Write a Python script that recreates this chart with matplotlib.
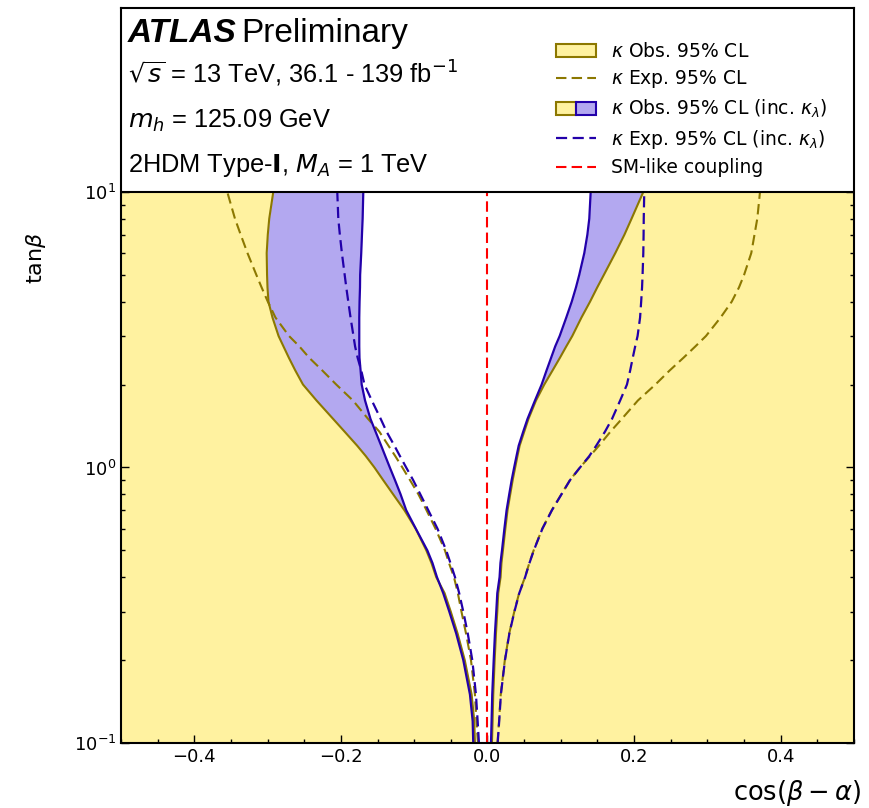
import matplotlib
matplotlib.use("Agg")
import matplotlib.pyplot as plt
from matplotlib.patches import Patch
from matplotlib.lines import Line2D
from matplotlib.legend_handler import HandlerTuple
from matplotlib.ticker import MultipleLocator, LogLocator, NullFormatter

# tan(beta) sampling points
tan_beta = [0.1, 0.12, 0.15, 0.2, 0.25, 0.3, 0.35, 0.4, 0.45, 0.5, 0.6, 0.7, 0.8,
            0.9, 1.0, 1.1, 1.2, 1.35, 1.5, 1.75, 2.0, 2.25, 2.5, 2.75, 3.0, 3.5,
            4.0, 4.5, 5.0, 6.0, 7.0, 8.0, 10.0]

# kappa observed / expected 95% CL boundaries, cos(beta - alpha)
obs_left = [-0.0171, -0.0180, -0.0216, -0.0310, -0.0408, -0.0501, -0.0585, -0.0699,
            -0.0764, -0.0834, -0.0980, -0.1134, -0.1288, -0.1423, -0.1542, -0.1660,
            -0.1778, -0.1950, -0.2105, -0.2332, -0.2517, -0.2622, -0.2709, -0.2783,
            -0.2850, -0.2933, -0.2988, -0.3001, -0.3007, -0.3012, -0.2997, -0.2977,
            -0.2922]
obs_right = [0.0061, 0.0070, 0.0079, 0.0098, 0.0116, 0.0134, 0.0147, 0.0179,
             0.0191, 0.0211, 0.0244, 0.0274, 0.0311, 0.0344, 0.0378, 0.0409,
             0.0439, 0.0502, 0.0559, 0.0662, 0.0775, 0.0888, 0.0988, 0.1075,
             0.1157, 0.1282, 0.1400, 0.1497, 0.1588, 0.1744, 0.1869, 0.1966,
             0.2126]
exp_left = [-0.0130, -0.0150, -0.0171, -0.0225, -0.0293, -0.0355, -0.0404, -0.0457,
            -0.0525, -0.0580, -0.0709, -0.0832, -0.0943, -0.1057, -0.1161, -0.1258,
            -0.1351, -0.1476, -0.1628, -0.1835, -0.2063, -0.2254, -0.2431, -0.2566,
            -0.2707, -0.2892, -0.2997, -0.3081, -0.3153, -0.3274, -0.3367, -0.3445,
            -0.3550]
exp_right = [0.0137, 0.0158, 0.0181, 0.0237, 0.0297, 0.0366, 0.0432, 0.0512,
             0.0571, 0.0630, 0.0748, 0.0878, 0.1009, 0.1125, 0.1262, 0.1398,
             0.1521, 0.1679, 0.1832, 0.2052, 0.2291, 0.2486, 0.2673, 0.2836,
             0.2981, 0.3180, 0.3333, 0.3431, 0.3501, 0.3599, 0.3643, 0.3681,
             0.3718]

# including kappa_lambda
obs_kl_left = [-0.0194, -0.0202, -0.0239, -0.0330, -0.0427, -0.0521, -0.0604, -0.0689,
               -0.0750, -0.0820, -0.0978, -0.1109, -0.1186, -0.1262, -0.1332, -0.1394,
               -0.1450, -0.1527, -0.1596, -0.1670, -0.1716, -0.1731, -0.1746, -0.1749,
               -0.1749, -0.1749, -0.1745, -0.1739, -0.1737, -0.1722, -0.1712, -0.1703,
               -0.1694]
obs_kl_right = [0.0048, 0.0056, 0.0065, 0.0085, 0.0102, 0.0120, 0.0134, 0.0165,
                0.0177, 0.0198, 0.0231, 0.0261, 0.0297, 0.0330, 0.0364, 0.0396,
                0.0426, 0.0488, 0.0546, 0.0648, 0.0739, 0.0806, 0.0868, 0.0924,
                0.0985, 0.1075, 0.1150, 0.1207, 0.1252, 0.1321, 0.1363, 0.1389,
                0.1408]
exp_kl_left = [-0.0116, -0.0134, -0.0157, -0.0207, -0.0269, -0.0330, -0.0386, -0.0443,
               -0.0505, -0.0563, -0.0682, -0.0808, -0.0917, -0.1014, -0.1109, -0.1194,
               -0.1270, -0.1377, -0.1456, -0.1578, -0.1678, -0.1722, -0.1771, -0.1806,
               -0.1828, -0.1868, -0.1899, -0.1926, -0.1948, -0.1986, -0.2014, -0.2035,
               -0.2049]
exp_kl_right = [0.0139, 0.0160, 0.0183, 0.0239, 0.0299, 0.0368, 0.0434, 0.0514,
                0.0573, 0.0632, 0.0750, 0.0880, 0.1011, 0.1127, 0.1263, 0.1389,
                0.1484, 0.1604, 0.1699, 0.1810, 0.1903, 0.1947, 0.1982, 0.2015,
                0.2048, 0.2082, 0.2097, 0.2109, 0.2116, 0.2126, 0.2130, 0.2132,
                0.2139]

yellow = '#fff2a0'
olive = '#8c7800'
lilac = '#b3a8f0'
blue = '#2200aa'
dash = (5, 2.5)

x_min, x_max = -0.5, 0.5
y_min, y_max = 0.1, 46.5

fig = plt.figure(figsize=(8.69, 8.08), dpi=100)
ax = fig.add_axes([0.1392, 0.0804, 0.8435, 0.9097])

ax.fill_betweenx(tan_beta, x_min, obs_left, color=yellow, lw=0, zorder=1)
ax.fill_betweenx(tan_beta, obs_right, x_max, color=yellow, lw=0, zorder=1)
ax.fill_betweenx(tan_beta, obs_left, obs_kl_left, color=lilac, lw=0, zorder=1.5)
ax.fill_betweenx(tan_beta, obs_kl_right, obs_right, color=lilac, lw=0, zorder=1.5)

for xs in (obs_left, obs_right):
    ax.plot(xs, tan_beta, color=olive, lw=1.5, zorder=2)
for xs in (exp_left, exp_right):
    ax.plot(xs, tan_beta, color=olive, lw=1.5, dashes=dash, zorder=2.2)
for xs in (obs_kl_left, obs_kl_right):
    ax.plot(xs, tan_beta, color=blue, lw=1.6, zorder=2.4)
for xs in (exp_kl_left, exp_kl_right):
    ax.plot(xs, tan_beta, color=blue, lw=1.6, dashes=dash, zorder=2.6)
ax.plot([0, 0], [y_min, 10], color='red', lw=1.5, dashes=dash, zorder=2.8)

# white box for the labels
ax.axhspan(10, y_max, facecolor='white', edgecolor='none', zorder=4)
ax.axhline(10, color='black', lw=1.5, zorder=5)

ax.set_xlim(x_min, x_max)
ax.set_yscale('log')
ax.set_ylim(y_min, y_max)
ax.xaxis.set_major_locator(MultipleLocator(0.2))
ax.xaxis.set_minor_locator(MultipleLocator(0.05))
ax.yaxis.set_major_locator(LogLocator(base=10, numticks=10))
ax.yaxis.set_minor_locator(LogLocator(base=10, subs=range(2, 10), numticks=10))
ax.yaxis.set_minor_formatter(NullFormatter())
ax.tick_params(which='both', direction='in', right=True, labelsize=13, width=1)
ax.tick_params(which='major', length=6)
ax.tick_params(which='minor', length=3)
for sp in ax.spines.values():
    sp.set_linewidth(1.5)
    sp.set_zorder(5)

ax.set_xlabel(r'$\cos(\beta-\alpha)$', fontsize=18.5, loc='right')
ax.xaxis.set_label_coords(1.01, -0.048)
ax.set_ylabel(r'tan$\beta$', fontsize=16)
ax.yaxis.set_label_coords(-0.10, 0.66)

lab_font = {'family': 'Liberation Sans'}
fig.text(128 / 869, 1 - 42 / 808, 'ATLAS', fontsize=24, fontweight='bold',
         fontstyle='italic', **lab_font)
fig.text(241 / 869, 1 - 42 / 808, 'Preliminary', fontsize=24, **lab_font)
fig.text(128 / 869, 1 - 83 / 808, r'$\sqrt{s}$ = 13 TeV, 36.1 - 139 fb$^{-1}$',
         fontsize=18.3, **lab_font)
fig.text(128 / 869, 1 - 128 / 808, r'$m_h$ = 125.09 GeV', fontsize=18.3, **lab_font)
fig.text(128 / 869, 1 - 172 / 808, r'2HDM Type-$\mathbf{I}$, $M_A$ = 1 TeV',
         fontsize=18.3, **lab_font)

h_obs = Patch(facecolor=yellow, edgecolor=olive, lw=1.5)
h_exp = Line2D([], [], color=olive, lw=1.5, dashes=dash)
h_obs_kl = (Patch(facecolor=yellow, edgecolor=olive, lw=1.5),
            Patch(facecolor=lilac, edgecolor=blue, lw=1.5))
h_exp_kl = Line2D([], [], color=blue, lw=1.6, dashes=dash)
h_sm = Line2D([], [], color='red', lw=1.5, dashes=dash)
leg = ax.legend([h_obs, h_exp, h_obs_kl, h_exp_kl, h_sm],
                [r'$\kappa$ Obs. 95% CL', r'$\kappa$ Exp. 95% CL',
                 r'$\kappa$ Obs. 95% CL (inc. $\kappa_\lambda$)',
                 r'$\kappa$ Exp. 95% CL (inc. $\kappa_\lambda$)', 'SM-like coupling'],
                handler_map={tuple: HandlerTuple(ndivide=None, pad=0)},
                loc='upper left', bbox_to_anchor=(556 / 869, 1 - 42 / 808),
                bbox_transform=fig.transFigure, frameon=False, fontsize=13.5,
                borderpad=0, borderaxespad=0, handlelength=2.13, handleheight=0.75,
                handletextpad=0.8, labelspacing=0.4)
leg.set_zorder(6)

fig.savefig('out.png', dpi=100)
